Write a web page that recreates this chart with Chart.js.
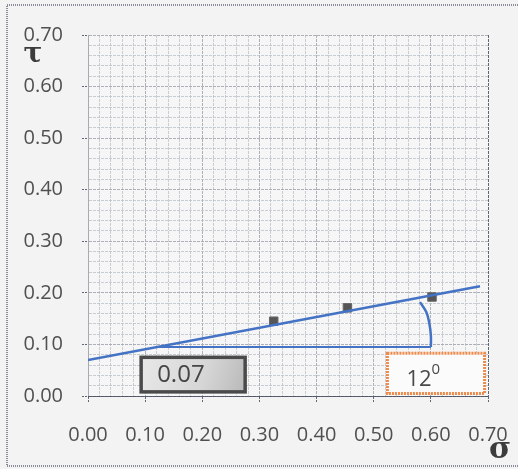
<!DOCTYPE html>
<html>
<head>
<meta charset="utf-8">
<script src="https://cdn.jsdelivr.net/npm/chart.js@4/dist/chart.umd.min.js"></script>
<style>
  html, body { margin: 0; padding: 0; background: #f3f3f3; }
  #wrap { position: relative; width: 518px; height: 469px; }
  canvas { display: block; }
</style>
</head>
<body>
<div id="wrap"><canvas id="c" width="518" height="469"></canvas></div>
<script>
// Measured shear test: normal stress σ against shear stress τ
const sigma = [0.325, 0.454, 0.602];
const tau = [0.145, 0.171, 0.192];

// Failure envelope (intercept 0.07, angle about 12°)
const envelopeX = [0.00, 0.686];
const envelopeY = [0.07, 0.213];

// Horizontal reference and the arc marking the friction angle
const baseX = [0.12, 0.600];
const baseY = [0.095, 0.095];
const arcX = [0.600, 0.600, 0.597, 0.592, 0.581];
const arcY = [0.095, 0.118, 0.143, 0.163, 0.182];

// Tick labels every 0.10 with minor grid every 0.02
const tickLabels = ['0.00', '0.10', '0.20', '0.30', '0.40', '0.50', '0.60', '0.70'];

// Text boxes: [xMin, xMax, yMin, yMax] in data units
const cohesionText = '0.07';
const cohesionBox = [0.093, 0.275, 0.008, 0.075];
const angleText = '12';
const angleBox = [0.524, 0.694, 0.005, 0.083];

const pts = (xs, ys) => xs.map((x, i) => ({ x: x, y: ys[i] }));

const BLUE = '#4472c4';
const MAJOR = 'rgba(80,88,104,0.9)';
const MINOR = 'rgba(120,132,148,0.75)';

const isMajor = (ctx) => ctx.index % 5 === 0;

function axisOpts(isX) {
  return {
    type: 'linear',
    min: 0,
    max: 0.7,
    ticks: {
      stepSize: 0.02,
      maxTicksLimit: 100,
      autoSkip: false,
      maxRotation: 0,
      padding: isX ? 21 : 19,
      color: '#505050',
      font: { family: 'Open Sans', size: 20 },
      callback: (v, i) => (i % 5 === 0 ? tickLabels[i / 5] : '')
    },
    grid: {
      color: (ctx) => (isMajor(ctx) ? MAJOR : MINOR),
      lineWidth: 1,
      tickLength: 6,
      tickColor: (ctx) => (isMajor(ctx) ? MAJOR : 'rgba(0,0,0,0)'),
      tickBorderDash: [2, 1],
      borderDash: (ctx) => (isMajor(ctx) ? [3, 1] : [2, 2])
    },
    border: { display: true, color: MAJOR, dash: [3, 1] },
    afterFit: (scale) => {
      if (isX) {
        scale.height = 73;
        scale.paddingLeft = 0;
        scale.paddingRight = 0;
      } else {
        scale.width = 88;
        scale.paddingTop = 0;
        scale.paddingBottom = 0;
      }
    }
  };
}

// Page frame, axis symbols and the two text boxes
const decor = {
  id: 'decor',
  beforeDraw(chart) {
    const g = chart.ctx;
    g.save();
    g.fillStyle = '#f3f3f3';
    g.fillRect(0, 0, chart.width, chart.height);
    g.strokeStyle = 'rgba(110,115,130,0.8)';
    g.lineWidth = 2;
    g.setLineDash([1, 1]);
    g.beginPath();
    g.moveTo(518, 5); g.lineTo(7, 5); g.lineTo(7, 466); g.lineTo(518, 466);
    g.stroke();
    g.restore();
  },
  beforeDatasetsDraw(chart) {
    const a = chart.chartArea, g = chart.ctx;
    g.save();
    g.fillStyle = 'rgba(250,250,250,0.5)';
    g.fillRect(a.left, a.top, a.right - a.left, a.bottom - a.top);
    g.restore();
  },
  afterDraw(chart) {
    const g = chart.ctx, xs = chart.scales.x, ys = chart.scales.y;
    g.save();
    // axis symbols
    g.fillStyle = '#3c3c3c';
    g.textAlign = 'center';
    g.textBaseline = 'middle';
    g.font = 'bold 28px "DejaVu Serif"';
    g.fillText('τ', 33, 55);
    g.font = 'bold 30px "DejaVu Serif"';
    g.fillText('σ', 500, 450);

    // cohesion box
    let x0 = xs.getPixelForValue(cohesionBox[0]), x1 = xs.getPixelForValue(cohesionBox[1]);
    let y0 = ys.getPixelForValue(cohesionBox[3]), y1 = ys.getPixelForValue(cohesionBox[2]);
    const grad = g.createLinearGradient(x0, y0, x1, y1);
    grad.addColorStop(0, '#e8e8e8');
    grad.addColorStop(0.6, '#d6d6d6');
    grad.addColorStop(1, '#b9b9b9');
    g.fillStyle = grad;
    g.fillRect(x0, y0, x1 - x0, y1 - y0);
    g.strokeStyle = '#4a4a4a';
    g.lineWidth = 3.5;
    g.setLineDash([]);
    g.strokeRect(x0, y0, x1 - x0, y1 - y0);
    g.fillStyle = '#454545';
    g.font = '24px "Open Sans"';
    g.textAlign = 'left';
    g.fillText(cohesionText, x0 + 16, (y0 + y1) / 2 + 1);

    // angle box
    x0 = xs.getPixelForValue(angleBox[0]); x1 = xs.getPixelForValue(angleBox[1]);
    y0 = ys.getPixelForValue(angleBox[3]); y1 = ys.getPixelForValue(angleBox[2]);
    g.fillStyle = '#fbfbfb';
    g.fillRect(x0, y0, x1 - x0, y1 - y0);
    g.strokeStyle = '#ee8a4a';
    g.lineWidth = 3;
    g.setLineDash([2, 1]);
    g.strokeRect(x0, y0, x1 - x0, y1 - y0);
    g.setLineDash([]);
    g.fillStyle = '#4a4a4a';
    g.font = '22px "Open Sans"';
    const ty = (y0 + y1) / 2 + 6;
    g.fillText(angleText, x0 + 19, ty);
    const w = g.measureText(angleText).width;
    g.font = '15px "Open Sans"';
    g.fillText('0', x0 + 19 + w, ty - 10);
    g.restore();
  }
};

new Chart(document.getElementById('c'), {
  type: 'scatter',
  data: {
    datasets: [
      {
        label: 'envelope',
        data: pts(envelopeX, envelopeY),
        showLine: true,
        borderColor: BLUE,
        borderWidth: 2.5,
        pointRadius: 0
      },
      {
        label: 'base',
        data: pts(baseX, baseY),
        showLine: true,
        borderColor: BLUE,
        borderWidth: 2,
        pointRadius: 0
      },
      {
        label: 'arc',
        data: pts(arcX, arcY),
        showLine: true,
        borderColor: BLUE,
        borderWidth: 2.5,
        tension: 0.4,
        pointRadius: 0
      },
      {
        label: 'tests',
        data: pts(sigma, tau),
        pointStyle: 'rect',
        pointRadius: 6,
        pointBackgroundColor: '#555555',
        pointBorderColor: '#666666',
        pointBorderWidth: 1
      }
    ]
  },
  options: {
    responsive: false,
    animation: false,
    layout: { padding: { left: 0, top: 35, right: 30, bottom: 0 } },
    plugins: { legend: { display: false }, tooltip: { enabled: false } },
    scales: { x: axisOpts(true), y: axisOpts(false) }
  },
  plugins: [decor]
});
</script>
</body>
</html>
